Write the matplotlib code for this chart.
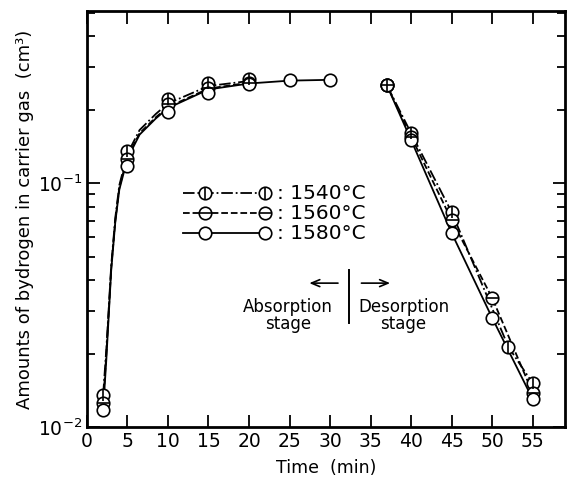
import numpy as np
import matplotlib.pyplot as plt
from matplotlib.ticker import FixedLocator, LogLocator, NullFormatter

# measured points, absorption stage (min, cm3)
abs_t_1540 = [2, 5, 10, 15, 20]
abs_v_1540 = [0.0135, 0.136, 0.222, 0.258, 0.266]
abs_t_1560 = [2, 5, 10, 15, 20]
abs_v_1560 = [0.0125, 0.126, 0.210, 0.245, 0.258]
abs_t_1580 = [2, 5, 10, 15, 20, 25, 30]
abs_v_1580 = [0.0117, 0.118, 0.195, 0.235, 0.255, 0.264, 0.265]

# smooth curves (absorption)
curve_t = [2, 2.4, 2.7, 3.0, 3.5, 4.0, 5, 6.5, 8.5, 10, 15, 20, 25, 30]
curve_1540 = [0.0135, 0.021, 0.031, 0.046, 0.072, 0.098, 0.132, 0.165, 0.192, 0.212, 0.250, 0.262]
curve_1560 = [0.0125, 0.020, 0.030, 0.045, 0.070, 0.096, 0.128, 0.160, 0.186, 0.205, 0.244, 0.258]
curve_1580 = [0.0117, 0.019, 0.029, 0.044, 0.069, 0.094, 0.126, 0.158, 0.184, 0.203, 0.242, 0.256, 0.263, 0.265]

# desorption stage
des_t_1540 = [37, 40, 45, 52, 55]
des_v_1540 = [0.252, 0.160, 0.076, 0.0213, 0.0151]
des_t_1560 = [37, 40, 45, 50, 55]
des_v_1560 = [0.252, 0.155, 0.0705, 0.0338, 0.0138]
des_t_1580 = [37, 40, 45, 50, 55]
des_v_1580 = [0.252, 0.150, 0.0624, 0.0280, 0.0130]

labels = [': 1540\u00b0C', ': 1560\u00b0C', ': 1580\u00b0C']
styles = ['-.', '--', '-']
bars = ['|', '_', None]

fig = plt.figure(figsize=(5.68, 4.82), dpi=100)
ax = fig.add_axes([0.153, 0.114, 0.842, 0.863])

ms = 9
lw = 1.3

def marks(t, v, bar, **kw):
    ax.plot(t, v, 'o', ms=ms, mfc='white', mec='black', mew=1.2, zorder=4, **kw)
    if bar:
        ax.plot(t, v, bar, ms=ms, color='black', mew=1.2, zorder=5, **kw)

series = [
    (curve_1540, abs_t_1540, abs_v_1540, des_t_1540, des_v_1540),
    (curve_1560, abs_t_1560, abs_v_1560, des_t_1560, des_v_1560),
    (curve_1580, abs_t_1580, abs_v_1580, des_t_1580, des_v_1580),
]
for (cv, at, av, dt, dv), ls, bar in zip(series, styles, bars):
    ax.plot(curve_t[:len(cv)], cv, ls, color='black', lw=lw)
    ax.plot(dt, dv, ls, color='black', lw=lw)
    marks(at, av, bar)
    marks(dt, dv, bar)

# hand drawn legend
rows = [0.5625, 0.514, 0.466]
for y, ls, bar, lab in zip(rows, styles, bars, labels):
    ax.plot([0.20, 0.385], [y, y], ls, color='black', lw=lw, transform=ax.transAxes)
    marks([0.247, 0.372], [y, y], bar, transform=ax.transAxes)
    ax.text(0.397, y, lab, transform=ax.transAxes, fontsize=14.5, va='center', ha='left')

# stage annotation
ax.text(0.42, 0.269, 'Absorption\nstage', transform=ax.transAxes, fontsize=12,
        ha='center', va='center', linespacing=0.95)
ax.text(0.662, 0.269, 'Desorption\nstage', transform=ax.transAxes, fontsize=12,
        ha='center', va='center', linespacing=0.95)
ax.plot([0.548, 0.548], [0.250, 0.377], color='black', lw=1.4, transform=ax.transAxes)
arrow = dict(arrowstyle='->,head_length=0.6,head_width=0.25', lw=1.2, color='black',
             shrinkA=0, shrinkB=0)
ax.annotate('', xy=(0.465, 0.346), xytext=(0.525, 0.346), xycoords='axes fraction',
            arrowprops=arrow)
ax.annotate('', xy=(0.634, 0.346), xytext=(0.574, 0.346), xycoords='axes fraction',
            arrowprops=arrow)

ax.set_yscale('log')
ax.set_xlim(0, 59)
ax.set_ylim(0.01, 0.507)
ax.set_xticks(np.arange(0, 56, 5))
ax.yaxis.set_major_locator(FixedLocator([0.01, 0.1]))
ax.yaxis.set_minor_locator(LogLocator(base=10, subs=np.arange(2, 10)))
ax.yaxis.set_minor_formatter(NullFormatter())
ax.tick_params(which='both', direction='in', top=True, right=True, labelsize=13.5, width=1.3)
ax.tick_params(which='major', length=9)
ax.tick_params(which='minor', length=6)
for s in ax.spines.values():
    s.set_linewidth(2)

ax.set_xlabel('Time  (min)', fontsize=12.5, labelpad=6)
ax.set_ylabel('Amounts of bydrogen in carrier gas  (cm\u00b3)', fontsize=13, labelpad=3)

fig.savefig('out.png', dpi=100)
